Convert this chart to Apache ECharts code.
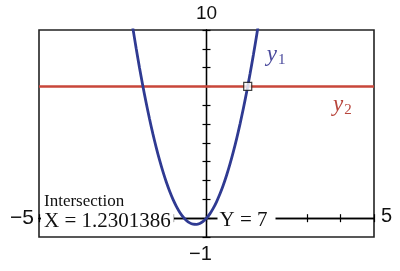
<!DOCTYPE html>
<html><head><meta charset="utf-8">
<script src="https://cdn.jsdelivr.net/npm/echarts@6/dist/echarts.min.js"></script>
<style>html,body{margin:0;padding:0;background:#fff}#c{width:400px;height:271px}</style>
</head><body><div id="c"></div>
<script>
// ---- data ----
const xVals  = [-2.2,-2.1,-2.0,-1.9,-1.8,-1.7,-1.6,-1.5,-1.4,-1.3,-1.2,-1.1,-1.0,-0.9,-0.8,-0.7,-0.6,-0.5,-0.4,-0.3,-0.2,-0.1,0.0,0.1,0.2,0.3,0.4,0.5,0.6,0.7,0.8,0.9,1.0,1.1,1.2,1.3,1.4,1.5,1.6];
const y1Vals = [10.12,9.03,8.0,7.03,6.12,5.27,4.48,3.75,3.08,2.47,1.92,1.43,1.0,0.63,0.32,0.07,-0.12,-0.25,-0.32,-0.33,-0.28,-0.17,0.0,0.23,0.52,0.87,1.28,1.75,2.28,2.87,3.52,4.23,5.0,5.83,6.72,7.67,8.68,9.75,10.88];
const y2X = [-5, 5];
const y2Vals = [7, 7];
const intersection = [1.2301386, 7];
const xRange = [-5, 5];
const yRange = [-1, 10];
const tickLabelTop = '10', tickLabelBottom = '\u22121', tickLabelLeft = '\u22125', tickLabelRight = '5';
const readoutTitle = 'Intersection';
const readoutX = 'X = 1.2301386';
const readoutY = 'Y = 7';
const seriesNames = ['y1', 'y2'];

// ---- chart ----
const chart = echarts.init(document.getElementById('c'), null, {renderer: 'canvas'});
const y1Data = xVals.map((x, i) => [x, y1Vals[i]]);
const y2Data = y2X.map((x, i) => [x, y2Vals[i]]);
const baseX = {
  type: 'value', min: xRange[0], max: xRange[1], interval: 1, gridIndex: 0, position: 'bottom',
  axisLine: {show: true, onZero: true, lineStyle: {color: '#000', width: 1.3}},
  axisTick: {show: true, length: 4, lineStyle: {color: '#000', width: 1.2}},
  axisLabel: {show: false}, splitLine: {show: false}
};
const baseY = {
  type: 'value', min: yRange[0], max: yRange[1], interval: 1, gridIndex: 0, position: 'left',
  axisLine: {show: true, onZero: true, lineStyle: {color: '#000', width: 1.3}},
  axisTick: {show: true, length: 4, lineStyle: {color: '#000', width: 1.2}},
  axisLabel: {show: false}, splitLine: {show: false}
};
chart.setOption({
  animation: false,
  backgroundColor: '#fff',
  grid: {left: 39, top: 30, width: 335, height: 207, show: true, borderColor: '#222', borderWidth: 1.6, backgroundColor: '#fff'},
  xAxis: [baseX, Object.assign({}, baseX, {axisTick: Object.assign({}, baseX.axisTick, {inside: true})})],
  yAxis: [baseY, Object.assign({}, baseY, {axisTick: Object.assign({}, baseY.axisTick, {inside: true})})],
  series: [
    {name: seriesNames[1], type: 'line', data: y2Data, showSymbol: false, lineStyle: {color: '#c8463a', width: 2.6}, z: 3},
    {name: seriesNames[0], type: 'line', data: y1Data, smooth: 0.3, showSymbol: false, clip: true, lineStyle: {color: '#2f3a92', width: 2.8}, z: 4},
    {type: 'scatter', data: [intersection], symbol: 'rect', symbolSize: 8, itemStyle: {color: '#fff', borderColor: '#111', borderWidth: 1.2}, z: 6}
  ]
});

const px = (x, y) => chart.convertToPixel({xAxisIndex: 0, yAxisIndex: 0}, [x, y]);
const o = px(0, 0), tl = px(xRange[0], yRange[1]), br = px(xRange[1], yRange[0]);
const sans = '"Liberation Sans", Arial, sans-serif';
const serif = '"Liberation Serif", "Times New Roman", serif';
const txt = (x, y, text, opts) => ({type: 'text', x: x, y: y, z: 100, silent: true,
  style: Object.assign({text: text, fill: '#111', textVerticalAlign: 'middle'}, opts)});
const ptI = px(intersection[0], intersection[1]);
chart.setOption({graphic: [
  txt(o[0], tl[1] - 16, tickLabelTop, {font: '19px ' + sans, textAlign: 'center'}),
  txt(o[0] - 6, br[1] + 17, tickLabelBottom, {font: '20px ' + sans, textAlign: 'center'}),
  txt(tl[0] - 5, o[1], tickLabelLeft, {font: '21px ' + sans, textAlign: 'right'}),
  txt(br[0] + 7, o[1] - 2, tickLabelRight, {font: '20px ' + sans, textAlign: 'left'}),
  txt(tl[0] + 5, o[1] - 17, readoutTitle, {font: '17px ' + serif, textAlign: 'left'}),
  txt(tl[0] + 2, o[1] + 3, readoutX, {font: '21px ' + serif, textAlign: 'left', backgroundColor: '#fff', padding: [0, 3, 0, 3]}),
  txt(o[0] + 11, o[1] + 2, readoutY, {font: '21px ' + serif, textAlign: 'left', backgroundColor: '#fff', padding: [0, 8, 0, 2]}),
  {type: 'text', x: ptI[0] + 19, y: ptI[1] - 32, z: 100, silent: true, style: {
    text: '{v|y}{s|1}', textVerticalAlign: 'middle',
    rich: {v: {font: 'italic 23px ' + serif, fill: '#4a4a9c'}, s: {font: '15px ' + serif, fill: '#4a4a9c', verticalAlign: 'bottom', padding: [12, 0, 0, 1]}}}},
  {type: 'text', x: br[0] - 41, y: ptI[1] + 18, z: 100, silent: true, style: {
    text: '{v|y}{s|2}', textVerticalAlign: 'middle',
    rich: {v: {font: 'italic 23px ' + serif, fill: '#b8453c'}, s: {font: '15px ' + serif, fill: '#b8453c', verticalAlign: 'bottom', padding: [12, 0, 0, 1]}}}}
]});
</script></body></html>
